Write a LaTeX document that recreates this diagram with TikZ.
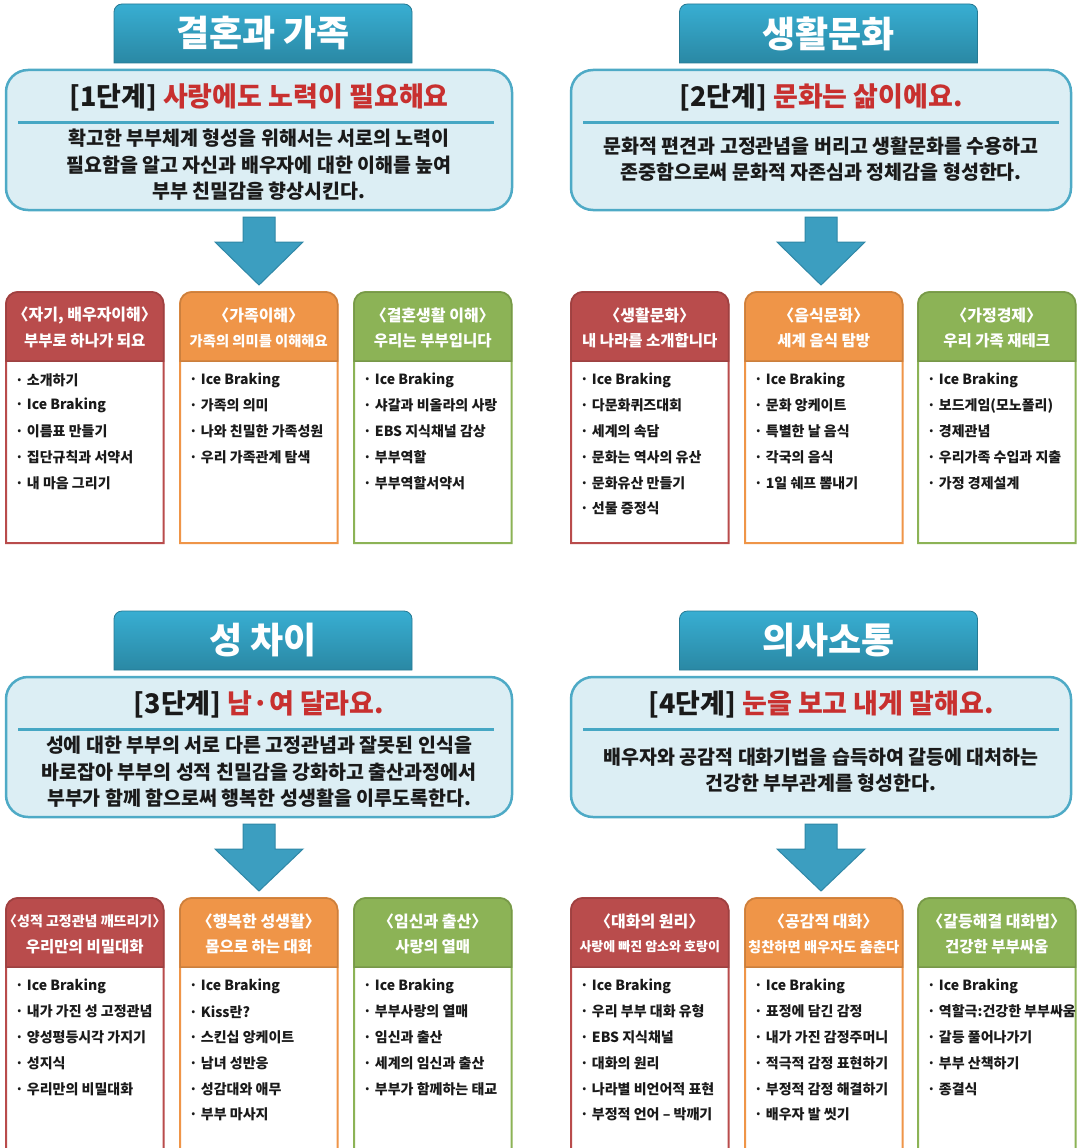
\documentclass[tikz,border=0pt]{standalone}
\usepackage{fontspec}
\setmainfont{Noto Sans CJK KR}
\usetikzlibrary{calc}
\definecolor{ink}{HTML}{1A1A1A}
\definecolor{tabtop}{HTML}{38AED2}
\definecolor{tabbot}{HTML}{2A88A4}
\definecolor{boxfill}{HTML}{DCEEF4}
\definecolor{boxline}{HTML}{4EAAC6}
\definecolor{sepblue}{HTML}{46A7C4}
\definecolor{stagered}{HTML}{C8302F}
\definecolor{arrowfill}{HTML}{3C9EC0}
\definecolor{arrowline}{HTML}{2F87A7}
\definecolor{redcard}{HTML}{B94C4C}
\definecolor{orangecard}{HTML}{EF9548}
\definecolor{greencard}{HTML}{8CB356}

% card: name, x, y, colour, title, subtitle, items
\newcommand{\stagecard}[7]{%
  \node[cardframe] (#1) at (#2,#3) {};
  \node[cardhead] (#1h) at (#2,#3) {};
  \filldraw[fill=white,draw=#4,line width=2pt] (#1.south west) [rounded corners=12pt] -- (#1.north west)
    -- (#1.north east) [sharp corners] -- (#1.south east) -- cycle;
  \filldraw[fill=#4,draw=#4!85!black,line width=1.5pt] (#1h.south west) [rounded corners=12pt] -- (#1h.north west)
    -- (#1h.north east) [sharp corners] -- (#1h.south east) -- cycle;
  \node[cardtitle] (#1t) at ($(#1.north)+(0,23)$) {#5};
  \node[cardsub] (#1s) at ($(#1.north)+(0,49)$) {#6};
  \foreach \entry [count=\k] in {#7}
    \node[itemtext] (#1i\k) at ($(#1.north west)+(9,62.3+25.7*\k)$) {· \entry};
}

\begin{document}
\begin{tikzpicture}[x=1pt,y=-1pt,
    tabframe/.style={minimum width=298pt,minimum height=59pt,inner sep=0pt,outer sep=0pt},
    tabtext/.style={text=white,font=\fontsize{36}{38}\selectfont\bfseries},
    tabfill/.style={top color=tabtop,bottom color=tabbot,draw=tabbot!90!black,line width=0.8pt},
    stagebox/.style={draw=boxline,fill=boxfill,line width=2.5pt,rounded corners=22pt,
                     minimum width=#1,minimum height=140pt,inner sep=0pt,outer sep=0pt},
    heading/.style={text=ink,font=\fontsize{27}{30}\selectfont\bfseries},
    sepline/.style={draw=sepblue,line width=3pt},
    bodytext/.style={text=ink,align=center,font=\fontsize{19.5}{26.5}\selectfont\bfseries},
    bigarrow/.style={fill=arrowfill,draw=arrowline,line width=1pt},
    cardframe/.style={anchor=north west,minimum width=157.5pt,minimum height=251pt,inner sep=0pt,outer sep=0pt},
    cardhead/.style={anchor=north west,minimum width=157.5pt,minimum height=69pt,inner sep=0pt,outer sep=0pt},
    cardtitle/.style={text=white,font=\fontsize{16}{18}\selectfont\bfseries},
    cardsub/.style={text=white,font=\fontsize{15.5}{17}\selectfont\bfseries},
    itemtext/.style={anchor=west,inner sep=0pt,text=ink,font=\fontsize{14}{16}\selectfont\bfseries}]
  \useasboundingbox (0,0) rectangle (1077,1148);
  \clip (0,0) rectangle (1077,1148);
  \fill[white] (0,0) rectangle (1077,1148);

  % stage 1
  \node[tabframe] (t1) at (263,33.5) {};
  \path[tabfill] (t1.south west) [rounded corners=8pt] -- (t1.north west) -- (t1.north east) [sharp corners] -- (t1.south east) -- cycle;
  \node[tabtext] (t1t) at (t1) {결혼과 가족};
  \node[stagebox=506pt] (p1) at (259,140) {};
  \node[heading] (h1) at ($(p1.north)+(0,27)$) {[1단계] \textcolor{stagered}{사랑에도 노력이 필요해요}};
  \draw[sepline] ($(p1.north west)+(12,52)$) -- ($(p1.north east)+(-18,52)$);
  \node[bodytext] (b1) at ($(p1.north)+(0,95)$) {확고한 부부체계 형성을 위해서는 서로의 노력이\\필요함을 알고 자신과 배우자에 대한 이해를 높여\\부부 친밀감을 향상시킨다.};
  \filldraw[bigarrow] ($(p1.south)+(-16,7)$) -- ($(p1.south)+(16,7)$) -- ($(p1.south)+(16,32)$) -- ($(p1.south)+(44,32)$)
    -- ($(p1.south)+(0,75)$) -- ($(p1.south)+(-44,32)$) -- ($(p1.south)+(-16,32)$) -- cycle;
  \stagecard{c11}{6}{292}{redcard}{〈자기, 배우자이해〉}{부부로 하나가 되요}
    {소개하기,Ice Braking,이름표 만들기,집단규칙과 서약서,내 마음 그리기}
  \stagecard{c12}{180}{292}{orangecard}{〈가족이해〉}{{\fontsize{14.3}{16}\selectfont 가족의 의미를 이해해요}}
    {Ice Braking,가족의 의미,나와 친밀한 가족성원,우리 가족관계 탐색}
  \stagecard{c13}{354}{292}{greencard}{〈결혼생활 이해〉}{우리는 부부입니다}
    {Ice Braking,샤갈과 비올라의 사랑,EBS 지식채널 감상,부부역할,부부역할서약서}

  % stage 2
  \node[tabframe] (t2) at (828.5,33.5) {};
  \path[tabfill] (t2.south west) [rounded corners=8pt] -- (t2.north west) -- (t2.north east) [sharp corners] -- (t2.south east) -- cycle;
  \node[tabtext] (t2t) at (t2) {생활문화};
  \node[stagebox=500pt] (p2) at (821,140) {};
  \node[heading] (h2) at ($(p2.north)+(0,27)$) {[2단계] \textcolor{stagered}{문화는 삶이에요.}};
  \draw[sepline] ($(p2.north west)+(12,52)$) -- ($(p2.north east)+(-12,52)$);
  \node[bodytext] (b2) at ($(p2.north)+(0,89)$) {문화적 편견과 고정관념을 버리고 생활문화를 수용하고\\존중함으로써 문화적 자존심과 정체감을 형성한다.};
  \filldraw[bigarrow] ($(p2.south)+(-16,7)$) -- ($(p2.south)+(16,7)$) -- ($(p2.south)+(16,32)$) -- ($(p2.south)+(44,32)$)
    -- ($(p2.south)+(0,75)$) -- ($(p2.south)+(-44,32)$) -- ($(p2.south)+(-16,32)$) -- cycle;
  \stagecard{c21}{571}{292}{redcard}{〈생활문화〉}{내 나라를 소개합니다}
    {Ice Braking,다문화퀴즈대회,세계의 속담,문화는 역사의 유산,문화유산 만들기,선물 증정식}
  \stagecard{c22}{745}{292}{orangecard}{〈음식문화〉}{세계 음식 탐방}
    {Ice Braking,문화 앙케이트,특별한 날 음식,각국의 음식,1일 쉐프 뽐내기}
  \stagecard{c23}{918}{292}{greencard}{〈가정경제〉}{우리 가족 재테크}
    {Ice Braking,보드게임(모노폴리),경제관념,우리가족 수입과 지출,가정 경제설계}

  % stage 3
  \node[tabframe] (t3) at (263,640.5) {};
  \path[tabfill] (t3.south west) [rounded corners=8pt] -- (t3.north west) -- (t3.north east) [sharp corners] -- (t3.south east) -- cycle;
  \node[tabtext] (t3t) at (t3) {성 차이};
  \node[stagebox=506pt] (p3) at (259,747) {};
  \node[heading] (h3) at ($(p3.north)+(0,27)$) {[3단계] \textcolor{stagered}{남·여 달라요.}};
  \draw[sepline] ($(p3.north west)+(12,52)$) -- ($(p3.north east)+(-18,52)$);
  \node[bodytext] (b3) at ($(p3.north)+(0,95)$) {성에 대한 부부의 서로 다른 고정관념과 잘못된 인식을\\바로잡아 부부의 성적 친밀감을 강화하고 출산과정에서\\부부가 함께 함으로써 행복한 성생활을 이루도록한다.};
  \filldraw[bigarrow] ($(p3.south)+(-16,7)$) -- ($(p3.south)+(16,7)$) -- ($(p3.south)+(16,32)$) -- ($(p3.south)+(44,32)$)
    -- ($(p3.south)+(0,74)$) -- ($(p3.south)+(-44,32)$) -- ($(p3.south)+(-16,32)$) -- cycle;
  \stagecard{c31}{6}{898}{redcard}{{\fontsize{14}{16}\selectfont〈성적 고정관념 깨뜨리기〉}}{우리만의 비밀대화}
    {Ice Braking,내가 가진 성 고정관념,양성평등시각 가지기,성지식,우리만의 비밀대화}
  \stagecard{c32}{180}{898}{orangecard}{〈행복한 성생활〉}{몸으로 하는 대화}
    {Ice Braking,Kiss란?,스킨십 앙케이트,남녀 성반응,성감대와 애무,부부 마사지}
  \stagecard{c33}{354}{898}{greencard}{〈임신과 출산〉}{사랑의 열매}
    {Ice Braking,부부사랑의 열매,임신과 출산,세계의 임신과 출산,부부가 함께하는 태교}

  % stage 4
  \node[tabframe] (t4) at (828.5,640.5) {};
  \path[tabfill] (t4.south west) [rounded corners=8pt] -- (t4.north west) -- (t4.north east) [sharp corners] -- (t4.south east) -- cycle;
  \node[tabtext] (t4t) at (t4) {의사소통};
  \node[stagebox=500pt] (p4) at (821,747) {};
  \node[heading] (h4) at ($(p4.north)+(0,27)$) {[4단계] \textcolor{stagered}{눈을 보고 내게 말해요.}};
  \draw[sepline] ($(p4.north west)+(12,52)$) -- ($(p4.north east)+(-12,52)$);
  \node[bodytext] (b4) at ($(p4.north)+(0,93)$) {배우자와 공감적 대화기법을 습득하여 갈등에 대처하는\\건강한 부부관계를 형성한다.};
  \filldraw[bigarrow] ($(p4.south)+(-16,7)$) -- ($(p4.south)+(16,7)$) -- ($(p4.south)+(16,32)$) -- ($(p4.south)+(44,32)$)
    -- ($(p4.south)+(0,74)$) -- ($(p4.south)+(-44,32)$) -- ($(p4.south)+(-16,32)$) -- cycle;
  \stagecard{c41}{571}{898}{redcard}{〈대화의 원리〉}{{\fontsize{13}{15}\selectfont 사랑에 빠진 암소와 호랑이}}
    {Ice Braking,우리 부부 대화 유형,EBS 지식채널,대화의 원리,나라별 비언어적 표현,부정적 언어 – 박깨기}
  \stagecard{c42}{745}{898}{orangecard}{〈공감적 대화〉}{{\fontsize{14.3}{16}\selectfont 칭찬하면 배우자도 춤춘다}}
    {Ice Braking,표정에 담긴 감정,내가 가진 감정주머니,적극적 감정 표현하기,부정적 감정 해결하기,배우자 발 씻기}
  \stagecard{c43}{918}{898}{greencard}{〈갈등해결 대화법〉}{건강한 부부싸움}
    {Ice Braking,역할극:건강한 부부싸움,갈등 풀어나가기,부부 산책하기,종결식}
\end{tikzpicture}
\end{document}
